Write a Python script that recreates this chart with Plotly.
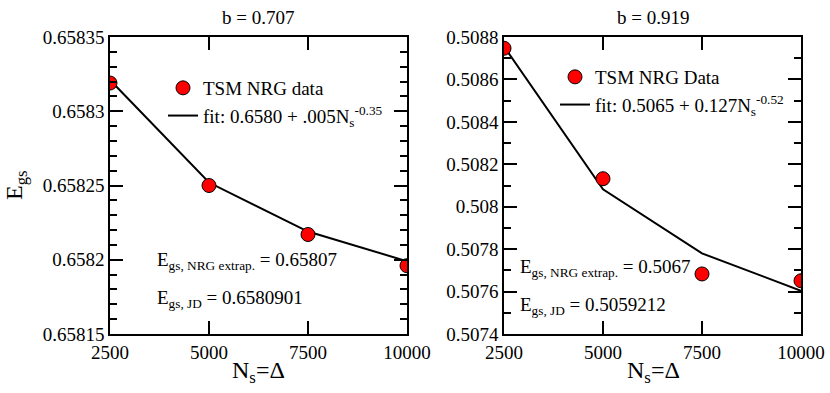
import plotly.graph_objects as go

# Data
ns = [2500, 5000, 7500, 10000]
left_data = [0.658319, 0.65825, 0.658217, 0.658196]
left_fit = [0.658321, 0.658252, 0.658219, 0.658199]
right_data = [0.508747, 0.508132, 0.507683, 0.507651]
right_fit = [0.508755, 0.508082, 0.507780, 0.507604]

x_ticks = [2500, 5000, 7500, 10000]
x_ticktext = ["2500", "5000", "7500", "10000"]
left_yticks = [0.65815, 0.6582, 0.65825, 0.6583, 0.65835]
left_yticktext = ["0.65815", "0.6582", "0.65825", "0.6583", "0.65835"]
right_yticks = [0.5074, 0.5076, 0.5078, 0.508, 0.5082, 0.5084, 0.5086, 0.5088]
right_yticktext = ["0.5074", "0.5076", "0.5078", "0.508", "0.5082", "0.5084", "0.5086", "0.5088"]

W, H = 830, 393
FONT = "Liberation Serif"

def px(x):
    return x / W

def py(y):
    return 1 - y / H

fig = go.Figure()

marker = dict(color="#ff0000", size=14, line=dict(color="black", width=1))

fig.add_trace(go.Scatter(x=ns, y=left_fit, mode="lines", line=dict(color="black", width=2),
                         name="fit: 0.6580 + .005N<sub>s</sub><sup>-0.35</sup>",
                         xaxis="x", yaxis="y", legend="legend", legendrank=2))
fig.add_trace(go.Scatter(x=ns, y=left_data, mode="markers", marker=marker,
                         name="TSM NRG data", xaxis="x", yaxis="y", legend="legend",
                         legendrank=1))
fig.add_trace(go.Scatter(x=ns, y=right_fit, mode="lines", line=dict(color="black", width=2),
                         name="fit: 0.5065 + 0.127N<sub>s</sub><sup>-0.52</sup>",
                         xaxis="x2", yaxis="y2", legend="legend2", legendrank=2))
fig.add_trace(go.Scatter(x=ns, y=right_data, mode="markers", marker=marker,
                         name="TSM NRG Data", xaxis="x2", yaxis="y2", legend="legend2",
                         legendrank=1))

tickfont = dict(family=FONT, size=19, color="black")

common_x = dict(range=[2500, 10000], tickvals=x_ticks, ticktext=x_ticktext,
                ticks="inside", ticklen=13, tickwidth=1.5, tickcolor="black",
                mirror="allticks", showline=True, linecolor="black", linewidth=1.5,
                showgrid=False, zeroline=False, automargin=False,
                tickfont=tickfont)

def yaxis(dom_anchor, rng, tv, tt, minor_dtick):
    return dict(domain=[py(334), py(37)], anchor=dom_anchor, range=rng,
                tickvals=tv, ticktext=tt,
                ticks="inside", ticklen=13, tickwidth=1.5, tickcolor="black",
                mirror="allticks", showline=True, linecolor="black", linewidth=1.5,
                showgrid=False, zeroline=False, automargin=False,
                minor=dict(ticks="inside", ticklen=7, tickwidth=1.5, tickcolor="black",
                           dtick=minor_dtick, tick0=rng[0], showgrid=False),
                tickfont=tickfont)

fig.update_layout(
    width=W, height=H,
    margin=dict(l=0, r=0, t=0, b=0, autoexpand=False),
    paper_bgcolor="white", plot_bgcolor="white",
    showlegend=True,
    font=dict(family=FONT, color="black"),
    xaxis=dict(domain=[px(110), px(407)], anchor="y", **common_x),
    xaxis2=dict(domain=[px(504), px(801)], anchor="y2", **common_x),
    yaxis=yaxis("x", [0.65815, 0.65835], left_yticks, left_yticktext, 0.00001),
    yaxis2=yaxis("x2", [0.5074, 0.5088], right_yticks, right_yticktext, 0.0001),
    legend=dict(x=px(163), y=py(69), xanchor="left", yanchor="top",
                bgcolor="rgba(0,0,0,0)", font=dict(family=FONT, size=19, color="black"),
                tracegroupgap=0, itemwidth=30),
    legend2=dict(x=px(555), y=py(58), xanchor="left", yanchor="top",
                 bgcolor="rgba(0,0,0,0)", font=dict(family=FONT, size=19, color="black"),
                 tracegroupgap=0, itemwidth=30),
)

def ann(text, x, y, size=19, xanchor="left", angle=0):
    return dict(text=text, x=px(x), y=py(y), xref="paper", yref="paper",
                xanchor=xanchor, yanchor="middle", showarrow=False, textangle=angle,
                font=dict(family=FONT, size=size, color="black"))

annotations = [
    ann("b = 0.707", 258, 17, 19, "center"),
    ann("b = 0.919", 653, 17, 19, "center"),
    ann("N<sub>s</sub>=Δ", 258, 372, 24, "center"),
    ann("N<sub>s</sub>=Δ", 653, 372, 24, "center"),
    ann("E<sub>gs</sub>", 16, 185, 24, "center", -90),
    ann("E<sub>gs, NRG extrap.</sub> = 0.65807", 155, 261),
    ann("E<sub>gs, JD</sub> = 0.6580901", 155, 299),
    ann("E<sub>gs, NRG extrap.</sub> = 0.5067", 518, 268),
    ann("E<sub>gs, JD</sub> = 0.5059212", 518, 306),
]
fig.update_layout(annotations=annotations)

fig.write_html("out.html", config={"displayModeBar": False},
               post_script="document.body.style.margin='0';document.body.style.padding='0';")
